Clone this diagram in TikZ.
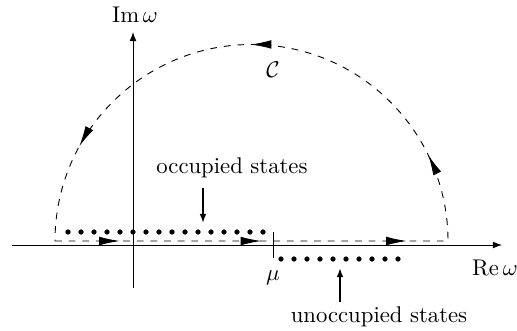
\documentclass[tikz,border=0pt]{standalone}
\usetikzlibrary{arrows.meta, decorations.markings}

\begin{document}
\begin{tikzpicture}[x=0.44pt, y=0.44pt, >={Latex[length=4pt,width=3pt]},
  axis/.style={draw, line width=0.4pt, ->},
  contour/.style={draw, dashed, line width=0.4pt},
  statedot/.style={fill, circle, inner sep=0pt, minimum size=2.3pt},
  pointer/.style={draw, line width=0.9pt, ->}]
  \useasboundingbox (-133,-85) rectangle (384,245);
  % axes
  \draw[axis] (-121,0) -- (369,0);
  \draw[axis] (0,-43) -- (0,213);
  \node (re) at (362,-23) {$\mathrm{Re}\,\omega$};
  \node (im) at (2,230) {$\mathrm{Im}\,\omega$};
  % contour
  \draw[contour, postaction={decorate}, decoration={markings,
      mark=at position 0.064 with {\arrow{Latex[length=9pt,width=3.8pt]}},
      mark=at position 0.204 with {\arrow{Latex[length=9pt,width=3.8pt]}},
      mark=at position 0.348 with {\arrow{Latex[length=9pt,width=3.8pt]}},
      mark=at position 0.477 with {\arrow{Latex[length=9pt,width=3.8pt]}},
      mark=at position 0.695 with {\arrow{Latex[length=9pt,width=3.8pt]}},
      mark=at position 0.902 with {\arrow{Latex[length=9pt,width=3.8pt]}}}]
    (-78,4) -- (315,4) arc[start angle=0, end angle=180, radius=196.5];
  \node (c) at (140,175) {$\mathcal{C}$};
  % chemical potential
  \coordinate (mutop) at (140,13);
  \coordinate (mubot) at (140,-13);
  \draw (mutop) -- (mubot);
  \node (mu) at (140,-33) {$\mu$};
  % states
  \foreach \i in {0,...,15} \node[statedot] (occ\i) at (-65+13*\i,13) {};
  \foreach \i in {0,...,9} \node[statedot] (unocc\i) at (148+13*\i,-14) {};
  \node (occlbl) at (99,77) {occupied states};
  \node (unocclbl) at (246,-72) {unoccupied states};
  \coordinate (occfrom) at (70,57);
  \coordinate (occto) at (70,22);
  \coordinate (unoccfrom) at (207,-57);
  \coordinate (unoccto) at (207,-23);
  \draw[pointer] (occfrom) -- (occto);
  \draw[pointer] (unoccfrom) -- (unoccto);
\end{tikzpicture}
\end{document}
